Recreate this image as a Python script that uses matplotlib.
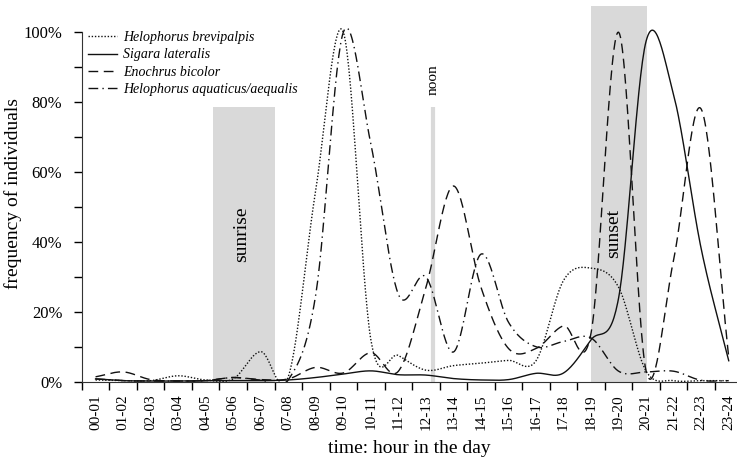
import numpy as np
import matplotlib
matplotlib.use("Agg")
import matplotlib.pyplot as plt
from matplotlib.ticker import FixedLocator, NullFormatter

plt.rcParams['font.family'] = ['Liberation Serif', 'DejaVu Serif']

hours = ["00-01", "01-02", "02-03", "03-04", "04-05", "05-06", "06-07", "07-08",
         "08-09", "09-10", "10-11", "11-12", "12-13", "13-14", "14-15", "15-16",
         "16-17", "17-18", "18-19", "19-20", "20-21", "21-22", "22-23", "23-24"]

# frequency of individuals (% of each species' maximum), one value per hour
brevipalpis = [0.5, 0.3, 0.3, 1.7, 0.5, 0.8, 8.6, 1.4, 55, 100, 12, 7.5,
               3.3, 4.6, 5.3, 6.1, 6, 29, 32.5, 27, 3, 0.3, 0.3, 0.3]
sigara = [0.8, 0.3, 0.2, 0.2, 0.3, 0.3, 0.3, 0.5, 1.2, 2.2, 3.1, 2.0,
          1.9, 0.9, 0.5, 0.6, 2.4, 2.5, 12, 24, 97.5, 82, 38, 6]
enochrus = [1.4, 2.8, 0.6, 0.2, 0.3, 1.2, 0.6, 0.8, 4.1, 2.5, 8.3, 3,
            27, 56, 27, 9.5, 9.5, 16, 14, 100, 3, 35, 78, 7]
aquaticus = [0.8, 0.3, 0.2, 0.2, 0.3, 1.2, 0.5, 0.5, 25, 100, 68, 25,
             30, 8.5, 36.5, 17, 10, 11.5, 12.5, 3, 2.8, 3, 0.4, 0.3]

series = [("Helophorus brevipalpis", brevipalpis, (0, (1, 1.3))),
          ("Sigara lateralis", sigara, "-"),
          ("Enochrus bicolor", enochrus, (0, (7, 4))),
          ("Helophorus aquaticus/aequalis", aquaticus, (0, (7, 3, 1, 3)))]


def smooth(y, n=30):
    # Catmull-Rom style smoothed line through the hourly values
    y = np.asarray(y, float)
    x = np.arange(len(y)) + 0.5
    m = np.zeros_like(y)
    m[1:-1] = (y[2:] - y[:-2]) / 2
    m[0] = y[1] - y[0]
    m[-1] = y[-1] - y[-2]
    xs, ys = [], []
    for i in range(len(y) - 1):
        t = np.linspace(0, 1, n, endpoint=False)
        h00 = 2 * t**3 - 3 * t**2 + 1
        h10 = t**3 - 2 * t**2 + t
        h01 = -2 * t**3 + 3 * t**2
        h11 = t**3 - t**2
        xs.append(x[i] + t)
        ys.append(h00 * y[i] + h10 * m[i] + h01 * y[i + 1] + h11 * m[i + 1])
    xs.append([x[-1]])
    ys.append([y[-1]])
    return np.concatenate(xs), np.concatenate(ys)


fig = plt.figure(figsize=(7.37, 4.61), dpi=100)
ax = fig.add_axes([0.111, 0.172, 0.889, 0.815])

gray = "#d9d9d9"
ax.axvspan(4.78, 7.02, ymax=78.7 / 107.5, color=gray, lw=0, zorder=0)
ax.axvspan(18.5, 20.54, color=gray, lw=0, zorder=0)
ax.plot([12.77, 12.77], [0, 78.7], color=gray, lw=3, solid_capstyle="butt", zorder=0)

ax.text(5.81, 42.3, "sunrise", rotation=90, ha="center", va="center", fontsize=14)
ax.text(19.31, 42.3, "sunset", rotation=90, ha="center", va="center", fontsize=14)
ax.text(12.77, 86.5, "noon", rotation=90, ha="center", va="center", fontsize=11)

for name, vals, ls in series:
    xs, ys = smooth(vals)
    ax.plot(xs, ys, color="#111111", lw=1.0, linestyle=ls, label=name)

ax.set_xlim(0, 23.8)
ax.set_ylim(0, 107.5)

ax.xaxis.set_major_locator(FixedLocator(range(0, 24)))
ax.xaxis.set_major_formatter(NullFormatter())
ax.xaxis.set_minor_locator(FixedLocator(np.arange(24) + 0.5))
ax.set_xticklabels(hours, minor=True, rotation=90, fontsize=11)
ax.tick_params(axis="x", which="major", length=6, width=1, direction="out")
ax.tick_params(axis="x", which="minor", length=0, pad=9)

ax.yaxis.set_major_locator(FixedLocator([0, 20, 40, 60, 80, 100]))
ax.yaxis.set_minor_locator(FixedLocator([10, 30, 50, 70, 90]))
ax.set_yticklabels(["0%", "20%", "40%", "60%", "80%", "100%"], fontsize=12)
ax.tick_params(axis="y", which="both", length=6, width=1, direction="out", pad=8)

for s in ["top", "right"]:
    ax.spines[s].set_visible(False)
ax.spines["left"].set_bounds(0, 100)
ax.spines["left"].set_color("#333333")
ax.spines["bottom"].set_color("#333333")

ax.set_ylabel("frequency of individuals", fontsize=14)
ax.yaxis.set_label_coords(-0.092, 0.5)
ax.set_xlabel("time: hour in the day", fontsize=14, labelpad=7)

fig.legend(loc="upper left", bbox_to_anchor=(88 / 737, 1 - 31 / 461),
           frameon=False, prop={"style": "italic", "size": 10},
           handlelength=2.1, handletextpad=0.4, labelspacing=0.32,
           borderpad=0, borderaxespad=0)

fig.savefig("out.png", dpi=100)
